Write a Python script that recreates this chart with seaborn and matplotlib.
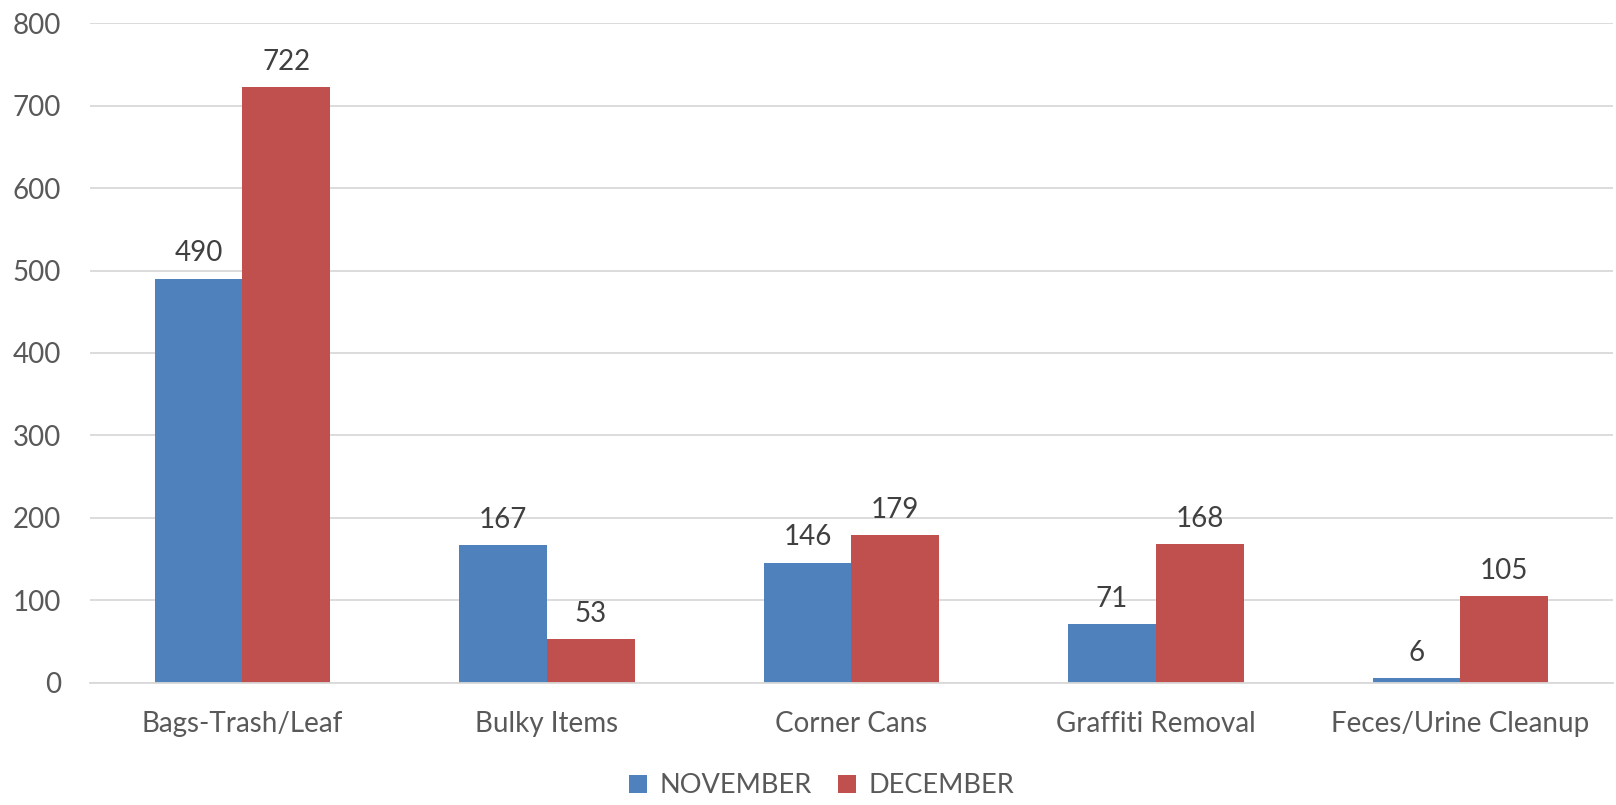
import numpy as np
import pandas as pd
import matplotlib
matplotlib.use("Agg")
import matplotlib.pyplot as plt
from matplotlib.lines import Line2D
import seaborn as sns

categories = ["Bags-Trash/Leaf", "Bulky Items", "Corner Cans",
              "Graffiti Removal", "Feces/Urine Cleanup"]
november = [490, 167, 146, 71, 6]
december = [722, 53, 179, 168, 105]
series_names = ["NOVEMBER", "DECEMBER"]
colors = ["#4F81BD", "#C0504D"]

df = pd.DataFrame({
    "category": categories * 2,
    "value": november + december,
    "month": [series_names[0]] * len(categories) + [series_names[1]] * len(categories),
})

sns.set_style("white")
plt.rcParams['font.family'] = ['Lato', 'DejaVu Sans']

fig = plt.figure(figsize=(16.16, 8.05), dpi=100)
ax = fig.add_axes([0.0557, 0.1516, 0.9423, 0.8198])

sns.barplot(data=df, x="category", y="value", hue="month",
            palette=colors, width=0.576, gap=0, ax=ax, legend=False,
            saturation=1, linewidth=0)

ax.set_ylim(0, 800)
ax.set_xlim(-0.5, len(categories) - 0.5)
ax.set_yticks(np.arange(0, 801, 100))
ax.yaxis.grid(True, color="#D9D9D9", linewidth=1.3)
ax.set_axisbelow(True)
for s in ["top", "right", "left"]:
    ax.spines[s].set_visible(False)
ax.spines["bottom"].set_color("#D9D9D9")
ax.spines["bottom"].set_linewidth(1.3)
ax.tick_params(axis="both", length=0, labelsize=20, colors="#595959")
ax.tick_params(axis="x", pad=20)
ax.tick_params(axis="y", pad=21)
ax.set_xlabel("")
ax.set_ylabel("")

for cont in ax.containers:
    ax.bar_label(cont, padding=9, fontsize=20, color="#404040")

handles = [Line2D([], [], marker="s", linestyle="", markersize=13,
                  markerfacecolor=c, markeredgewidth=0) for c in colors]
fig.legend(handles, series_names, loc="center", bbox_to_anchor=(0.507, 0.024),
           ncol=2, frameon=False, fontsize=19.5, labelcolor="#595959",
           handletextpad=0.3, columnspacing=0.8, handlelength=1.0)

fig.savefig("out.png", dpi=100)
